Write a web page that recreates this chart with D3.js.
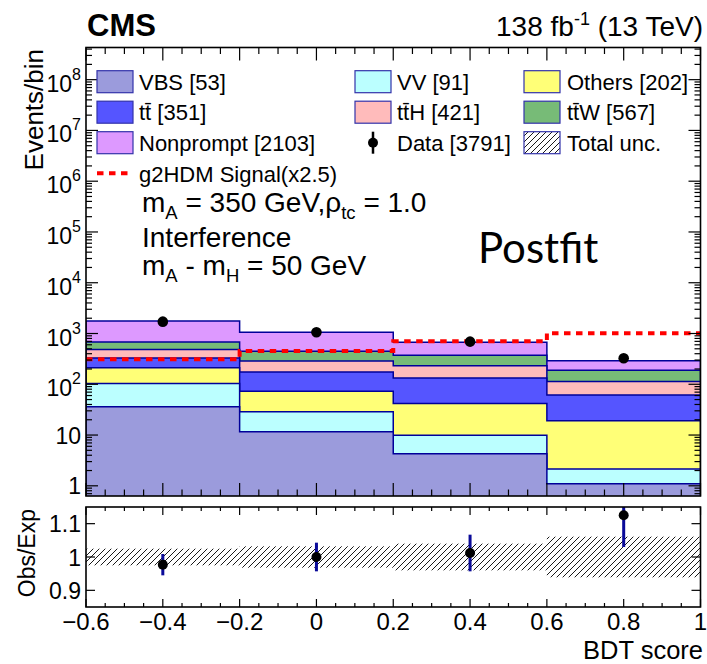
<!DOCTYPE html>
<html><head><meta charset="utf-8">
<script src="https://cdn.jsdelivr.net/npm/d3@7"></script>
<style>
body{margin:0;background:#fff}
svg{display:block}
text{font-family:"Liberation Sans",Arial,Helvetica,sans-serif;fill:#000}
</style>
</head><body>
<svg id="c" width="707" height="664"></svg>
<script>
// ---------------- data ----------------
const binEdges = [-0.6, -0.2, 0.2, 0.6, 1.0];
const binCenters = [-0.4, 0.0, 0.4, 0.8];
// per-bin yields of each background (stack order bottom -> top)
const vbs       = [36.0, 11.6, 4.3, 1.1];
const vv        = [67.5, 17.0, 5.6, 1.05];
const others    = [109, 44, 32, 17];
const ttbar     = [117, 101, 91, 42];
const ttH       = [157, 114, 98, 52];
const ttW       = [193, 158, 141, 75];
const nonprompt = [1085, 613, 304, 101];
const dataObs   = [1712, 1062, 692, 325];
const signal    = [312, 454, 700, 1014];   // already x2.5
// ratio panel
const ratioObsExp = [0.977, 1.000, 1.012, 1.125];
const ratioErr    = [0.032, 0.043, 0.055, 0.095];
const uncHalf     = [0.025, 0.032, 0.040, 0.061];
// tick labels
const xTickVals   = [-0.6, -0.4, -0.2, 0, 0.2, 0.4, 0.6, 0.8, 1.0];
const xTickLabels = ["\u22120.6","\u22120.4","\u22120.2","0","0.2","0.4","0.6","0.8","1"];
const yDecades    = [0,1,2,3,4,5,6,7,8];
const rTickVals   = [0.9, 1.0, 1.1];
const rTickLabels = ["0.9","1","1.1"];
// legend
const procNames  = ["VBS","VV","Others","tt","ttH","ttW","Nonprompt"];
const procColors = ["#9b9bdc","#bbffff","#ffff77","#5555ff","#ffbbbb","#77bb77","#dd99ff"];
const legendLabels = ["VBS [53]","VV [91]","Others [202]","t\u0074\u0304 [351]","t\u0074\u0304H [421]","t\u0074\u0304W [567]","Nonprompt [2103]","Data [3791]","Total unc.","g2HDM Signal(x2.5)"];

// ---------------- layout ----------------
const L = 86, R = 700.5, T = 47.5, B = 496;
const RT = 507, RB = 607;
const lineCol = "#000099";

const svg = d3.select("#c");
const x  = d3.scaleLinear().domain([-0.6, 1.0]).range([L, R]);
const y  = d3.scaleLog().domain([0.63, 4.3e8]).range([B, T]);
const yr = d3.scaleLinear().domain([0.85, 1.15]).range([RB, RT]);

const defs = svg.append("defs");
defs.append("clipPath").attr("id","cm").append("rect").attr("x",L).attr("y",T).attr("width",R-L).attr("height",B-T);
defs.append("clipPath").attr("id","cr").append("rect").attr("x",L).attr("y",RT).attr("width",R-L).attr("height",RB-RT);
const pat = defs.append("pattern").attr("id","hatch").attr("patternUnits","userSpaceOnUse").attr("width",6).attr("height",6);
pat.append("path").attr("d","M-1,1 l2,-2 M0,6 l6,-6 M5,7 l2,-2").attr("stroke","#000").attr("stroke-width",0.9);

// ---------------- main panel ----------------
const series = [vbs, vv, others, ttbar, ttH, ttW, nonprompt];
const cum = [];
series.forEach((s,i)=>{ cum.push(s.map((v,j)=> v + (i>0 ? cum[i-1][j] : 0))); });

function stepPts(vals){
  const pts = vals.map((v,j)=>({x:binEdges[j], v}));
  pts.push({x:binEdges[binEdges.length-1], v:vals[vals.length-1]});
  return pts;
}
const area = d3.area().curve(d3.curveStepAfter).x(d=>x(d.x)).y0(B+2).y1(d=>y(d.v));
const line = d3.line().curve(d3.curveStepAfter).x(d=>x(d.x)).y(d=>y(d.v));

const gm = svg.append("g").attr("clip-path","url(#cm)");
for (let i = cum.length-1; i >= 0; i--){
  gm.append("path").datum(stepPts(cum[i])).attr("d", area)
    .attr("fill", procColors[i]).attr("stroke", lineCol).attr("stroke-width",1.5);
}
gm.append("path").datum(stepPts(signal)).attr("d", line)
  .attr("fill","none").attr("stroke","#ff0000").attr("stroke-width",4).attr("stroke-dasharray","6.5,5.5");
gm.selectAll("circle.d").data(dataObs).enter().append("circle")
  .attr("cx",(d,i)=>x(binCenters[i])).attr("cy",d=>y(d)).attr("r",5.3).attr("fill","#000");

// ticks main
const gt = svg.append("g").attr("stroke","#000").attr("stroke-width",1.2);
const xMinor = d3.range(-0.6, 1.0001, 0.05).map(v=>+v.toFixed(2));
xMinor.forEach(v=>{
  const major = Math.abs(Math.round(v*5) - v*5) < 1e-6;
  const len = major ? 13 : 6.5;
  gt.append("line").attr("x1",x(v)).attr("x2",x(v)).attr("y1",B).attr("y2",B-len);
  gt.append("line").attr("x1",x(v)).attr("x2",x(v)).attr("y1",T).attr("y2",T+len);
  const lenR = major ? 8 : 4;
  gt.append("line").attr("x1",x(v)).attr("x2",x(v)).attr("y1",RB).attr("y2",RB-lenR);
  gt.append("line").attr("x1",x(v)).attr("x2",x(v)).attr("y1",RT).attr("y2",RT+lenR);
});
const yMinorVals = [];
for (let d = -1; d <= 8; d++) for (let k = 1; k <= 9; k++){
  const v = k*Math.pow(10,d);
  if (v >= 0.63 && v <= 4.3e8) yMinorVals.push({v, major: k===1});
}
yMinorVals.forEach(t=>{
  const len = t.major ? 12 : 6;
  gt.append("line").attr("x1",L).attr("x2",L+len).attr("y1",y(t.v)).attr("y2",y(t.v));
  gt.append("line").attr("x1",R).attr("x2",R-len).attr("y1",y(t.v)).attr("y2",y(t.v));
});

// y labels main
yDecades.forEach(d=>{
  const ty = y(Math.pow(10,d));
  if (d === 0 || d === 1){
    svg.append("text").attr("x",81).attr("y",ty+8.5).attr("text-anchor","end")
      .attr("font-size",23).text(d===0 ? "1" : "10");
  } else {
    const t = svg.append("text").attr("x",81).attr("y",ty+12).attr("text-anchor","end").attr("font-size",23);
    t.append("tspan").text("10");
    t.append("tspan").attr("dy",-12).attr("font-size",16).text(d);
  }
});

// ---------------- ratio panel ----------------
const gr = svg.append("g").attr("clip-path","url(#cr)");
uncHalf.forEach((u,i)=>{
  gr.append("rect").attr("x",x(binEdges[i])).attr("width",x(binEdges[i+1])-x(binEdges[i]))
    .attr("y",yr(1+u)).attr("height",yr(1-u)-yr(1+u)).attr("fill","url(#hatch)");
});
ratioObsExp.forEach((r,i)=>{
  gr.append("line").attr("x1",x(binCenters[i])).attr("x2",x(binCenters[i]))
    .attr("y1",yr(r-ratioErr[i])).attr("y2",yr(r+ratioErr[i])).attr("stroke","#0a0a99").attr("stroke-width",3);
  gr.append("circle").attr("cx",x(binCenters[i])).attr("cy",yr(r)).attr("r",5).attr("fill","#000");
});
rTickVals.forEach((v,i)=>{
  gt.append("line").attr("x1",L).attr("x2",L+9).attr("y1",yr(v)).attr("y2",yr(v));
  gt.append("line").attr("x1",R).attr("x2",R-9).attr("y1",yr(v)).attr("y2",yr(v));
  svg.append("text").attr("x",81).attr("y",yr(v)+8.5).attr("text-anchor","end").attr("font-size",23).text(rTickLabels[i]);
});
xTickVals.forEach((v,i)=>{
  svg.append("text").attr("x",x(v)).attr("y",630).attr("text-anchor","middle").attr("font-size",24).text(xTickLabels[i]);
});

// frames
svg.append("rect").attr("x",L).attr("y",T).attr("width",R-L).attr("height",B-T).attr("fill","none").attr("stroke","#000").attr("stroke-width",1.6);
svg.append("rect").attr("x",L).attr("y",RT).attr("width",R-L).attr("height",RB-RT).attr("fill","none").attr("stroke","#000").attr("stroke-width",1.6);

// axis titles
svg.append("text").attr("transform","translate(43,49) rotate(-90)").attr("text-anchor","end").attr("font-size",26).text("Events/bin");
svg.append("text").attr("transform","translate(35,509) rotate(-90)").attr("text-anchor","end").attr("font-size",23).text("Obs/Exp");
svg.append("text").attr("x",703).attr("y",659).attr("text-anchor","end").attr("font-size",25.5).text("BDT score");

// header
svg.append("text").attr("x",87).attr("y",36).attr("font-size",31).attr("font-weight","bold").text("CMS");
const lum = svg.append("text").attr("x",703).attr("y",36).attr("text-anchor","end").attr("font-size",28);
lum.append("tspan").text("138 fb");
lum.append("tspan").attr("dy",-11).attr("font-size",18).text("-1");
lum.append("tspan").attr("dy",11).text(" (13 TeV)");

// ---------------- legend ----------------
const colBox = [97, 355, 524], colTxt = [139, 397, 567];
const rowTop = [70.7, 101.2, 131.7];
const boxW = 36, boxH = 22;
const legItems = [
  {c:0,r:0,type:"box",p:0,l:0},{c:1,r:0,type:"box",p:1,l:1},{c:2,r:0,type:"box",p:2,l:2},
  {c:0,r:1,type:"box",p:3,l:3},{c:1,r:1,type:"box",p:4,l:4},{c:2,r:1,type:"box",p:5,l:5},
  {c:0,r:2,type:"box",p:6,l:6},{c:1,r:2,type:"data",l:7},{c:2,r:2,type:"hatch",l:8}
];
const gl = svg.append("g");
legItems.forEach(it=>{
  const bx = colBox[it.c], by = rowTop[it.r], cy = by + boxH/2;
  if (it.type === "box"){
    gl.append("rect").attr("x",bx).attr("y",by).attr("width",boxW).attr("height",boxH)
      .attr("fill",procColors[it.p]).attr("stroke","#3333aa").attr("stroke-width",1.2);
  } else if (it.type === "hatch"){
    gl.append("rect").attr("x",bx).attr("y",by).attr("width",boxW).attr("height",boxH)
      .attr("fill","url(#hatch)").attr("stroke","#3333aa").attr("stroke-width",1.2);
  } else {
    gl.append("line").attr("x1",bx+boxW/2).attr("x2",bx+boxW/2).attr("y1",by).attr("y2",by+boxH).attr("stroke","#000").attr("stroke-width",2.5);
    gl.append("circle").attr("cx",bx+boxW/2).attr("cy",cy).attr("r",5).attr("fill","#000");
  }
  gl.append("text").attr("x",colTxt[it.c]).attr("y",cy+8).attr("font-size",22).text(legendLabels[it.l]);
});
gl.append("line").attr("x1",97).attr("x2",128).attr("y1",173.3).attr("y2",173.3)
  .attr("stroke","#ff0000").attr("stroke-width",4).attr("stroke-dasharray","6.5,5.5");
gl.append("text").attr("x",139).attr("y",181.5).attr("font-size",22).text(legendLabels[9]);

// annotations
function subText(xp, yp, fs, parts){
  const t = svg.append("text").attr("x",xp).attr("y",yp).attr("font-size",fs);
  let shifted = 0;
  parts.forEach(p=>{
    const s = t.append("tspan").text(p.t);
    const want = p.sub ? 7 : 0;
    if (want !== shifted){ s.attr("dy", want - shifted); shifted = want; }
    if (p.sub) s.attr("font-size", fs*0.66);
  });
  return t;
}
subText(142, 212, 28, [{t:"m"},{t:"A",sub:true},{t:" = 350 GeV,\u03C1"},{t:"tc",sub:true},{t:" = 1.0"}]);
svg.append("text").attr("x",142).attr("y",247).attr("font-size",28).text("Interference");
subText(142, 275, 28, [{t:"m"},{t:"A",sub:true},{t:" - m"},{t:"H",sub:true},{t:" = 50 GeV"}]);
svg.append("text").attr("x",478).attr("y",263).attr("font-size",42).style("font-family","Lato, 'Open Sans', sans-serif").text("Postfit");
</script>
</body></html>
